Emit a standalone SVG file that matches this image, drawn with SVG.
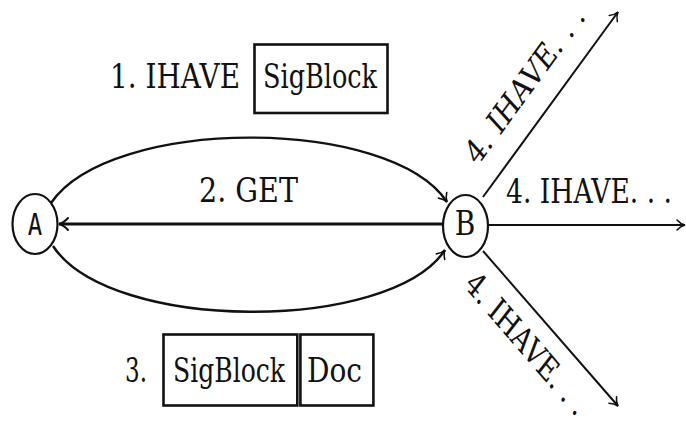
<svg xmlns="http://www.w3.org/2000/svg" width="686" height="425" viewBox="0 0 686 425">
<style>
.t{font-family:'DejaVu Serif','Liberation Serif',serif;font-size:28px;fill:#111}
.m{font-family:'DejaVu Sans Mono','Liberation Mono',monospace;font-size:24px;fill:#111}
.n{fill:#fff;stroke:#111;stroke-width:2.2}
.e{fill:none;stroke:#111}
.box{fill:#fff;stroke:#111;stroke-width:2.6}
</style>
<defs>
<marker id="ah" markerUnits="userSpaceOnUse" orient="auto" refX="0" refY="0" markerWidth="20" markerHeight="20" viewBox="-10 -10 20 20" overflow="visible">
<path d="M-8,-5 C-5.5,-2.2 -2.5,-0.6 0,0 C-2.5,0.6 -5.5,2.2 -8,5" fill="none" stroke="#111" stroke-width="1.6" stroke-linecap="round"/>
</marker>
<marker id="ahb" markerUnits="userSpaceOnUse" orient="auto" refX="0" refY="0" markerWidth="24" markerHeight="24" viewBox="-12 -12 24 24" overflow="visible">
<path d="M-9,-6 C-6,-2.6 -3,-0.7 0,0 C-3,0.7 -6,2.6 -9,6" fill="none" stroke="#111" stroke-width="2" stroke-linecap="round"/>
</marker>
</defs>
<g id="connectors">
<path class="e" d="M51,203 C110,116 390,116 447,202" stroke-width="2.4" marker-end="url(#ah)"/>
<path class="e" d="M53,246 C110,333 390,333 445,250" stroke-width="2.4" marker-end="url(#ah)"/>
<path class="e" d="M443,224 L59,224" stroke-width="3.2" marker-end="url(#ahb)"/>
<path class="e" d="M488,225 L685,225" stroke-width="2" marker-end="url(#ah)"/>
<path class="e" d="M483,197 L618,12" stroke-width="2" marker-end="url(#ah)"/>
<path class="e" d="M483,251 L618,406" stroke-width="2" marker-end="url(#ah)"/>
</g>
<g id="nodeA">
<ellipse class="n" cx="35" cy="224" rx="22.5" ry="30"/>
<text class="m" text-anchor="middle" transform="translate(35,235) scale(1,1.22)">A</text>
</g>
<g id="nodeB">
<ellipse class="n" cx="465.5" cy="226" rx="22.5" ry="31"/>
<text class="t" font-size="24" text-anchor="middle" transform="translate(465,235) scale(1,1.22)">B</text>
</g>
<g id="label1">
<text class="t" transform="translate(110,88) scale(1,1.22)" textLength="130" lengthAdjust="spacingAndGlyphs">1. IHAVE</text>
<rect class="box" x="254.5" y="44.5" width="133" height="68.5"/>
<text class="t" transform="translate(263,88) scale(1,1.22)" textLength="114" lengthAdjust="spacingAndGlyphs">SigBlock</text>
</g>
<g id="label2">
<text class="t" transform="translate(199,202) scale(1,1.22)" textLength="99" lengthAdjust="spacingAndGlyphs">2. GET</text>
</g>
<g id="label3">
<text class="t" transform="translate(125,382) scale(1,1.22)" textLength="22" lengthAdjust="spacingAndGlyphs">3.</text>
<rect class="box" x="163.5" y="334.5" width="133.8" height="71"/>
<rect class="box" x="300.4" y="334.5" width="73" height="71"/>
<text class="t" transform="translate(173,382) scale(1,1.22)" textLength="112" lengthAdjust="spacingAndGlyphs">SigBlock</text>
<text class="t" transform="translate(307,382) scale(1,1.22)" textLength="55" lengthAdjust="spacingAndGlyphs">Doc</text>
</g>
<g id="label4">
<text class="t" transform="translate(506,203) scale(1,1.22)" textLength="166" lengthAdjust="spacingAndGlyphs">4. IHAVE. . .</text>
<text class="t" text-anchor="middle" transform="translate(532,92) scale(1,1.22) rotate(-48.3)" textLength="164" lengthAdjust="spacingAndGlyphs">4. IHAVE. . .</text>
<text class="t" text-anchor="middle" transform="translate(520,352) scale(1,1.22) rotate(43.5)" textLength="156" lengthAdjust="spacingAndGlyphs">4. IHAVE. . .</text>
</g>
</svg>
